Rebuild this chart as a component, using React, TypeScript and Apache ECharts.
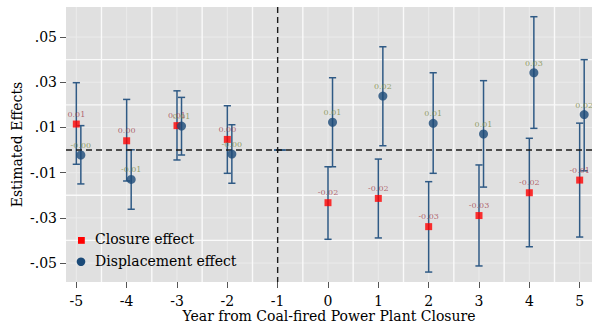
import React, { useEffect, useRef } from "react";
import * as echarts from "echarts";

const years = [-5, -4, -3, -2, -1, 0, 1, 2, 3, 4, 5];
const closure = [0.0115, 0.0041, 0.0108, 0.0047, null, -0.0233, -0.0214, -0.0339, -0.029, -0.0189, -0.0133];
const closureLow = [-0.0063, -0.0137, -0.0044, -0.0103, 0, -0.0395, -0.0389, -0.054, -0.0513, -0.0428, -0.0385];
const closureHigh = [0.0298, 0.0224, 0.0262, 0.0196, 0, -0.0074, -0.004, -0.014, -0.0066, 0.0052, 0.0119];
const displacement = [-0.0022, -0.013, 0.0106, -0.0018, null, 0.0123, 0.0239, 0.0118, 0.0071, 0.0342, 0.0157];
const dispLow = [-0.015, -0.0262, -0.0022, -0.0147, 0, -0.0074, 0.0019, -0.0103, -0.0164, 0.0096, -0.0092];
const dispHigh = [0.0108, 0.0001, 0.0233, 0.0112, 0, 0.032, 0.0457, 0.0342, 0.0307, 0.059, 0.04];

const xTicks = [-5, -4, -3, -2, -1, 0, 1, 2, 3, 4, 5];
const yTicks = [-0.05, -0.03, -0.01, 0.01, 0.03, 0.05];
const xMajorGrid = [-4.5, -3.5, -2.5, -1.5, -0.5, 0.5, 1.5, 2.5, 3.5, 4.5];
const yMajorGrid = [-0.04, -0.02, 0.02, 0.04];
const xMinorGrid = [-5, -4, -3, -2, 0, 1, 2, 3, 4, 5];
const yMinorGrid = [-0.05, -0.03, -0.01, 0.01, 0.03, 0.05];
const refX = [-1];
const refY = [0];
const legendNames = ["Closure effect", "Displacement effect"];

const DISP_OFFSET = 0.09;
const FONT = "DejaVu Serif";
const BAR_COLOR = "#2f5a85";
const RED = "#ff0000";
const NAVY = "#1b4a78";

function errorBarSeries(name: string, z: number, offset: number, low: number[], high: number[]) {
  return {
    name,
    type: "custom",
    z,
    silent: true,
    encode: { x: 0, y: [1, 2] },
    data: years.map((yr, i) => [yr + offset, low[i], high[i]]),
    renderItem: (params: any, api: any) => {
      const x = api.value(0);
      const pLo = api.coord([x, api.value(1)]);
      const pHi = api.coord([x, api.value(2)]);
      const w = 3.6;
      const style = { stroke: BAR_COLOR, lineWidth: 1.5 };
      return {
        type: "group",
        children: [
          { type: "line", shape: { x1: pLo[0], y1: pLo[1], x2: pHi[0], y2: pHi[1] }, style },
          { type: "line", shape: { x1: pLo[0] - w, y1: pLo[1], x2: pLo[0] + w, y2: pLo[1] }, style },
          { type: "line", shape: { x1: pHi[0] - w, y1: pHi[1], x2: pHi[0] + w, y2: pHi[1] }, style },
        ],
      };
    },
  };
}

function vLines(name: string, z: number, xs: number[], stroke: string, width: number, dash?: number[]) {
  return {
    name,
    type: "custom",
    z,
    silent: true,
    encode: { x: 0, y: 1 },
    data: xs.map((v) => [v, 0]),
    renderItem: (params: any, api: any) => {
      const cs = params.coordSys;
      const p = api.coord([api.value(0), 0]);
      return {
        type: "line",
        shape: { x1: p[0], y1: cs.y, x2: p[0], y2: cs.y + cs.height },
        style: { stroke, lineWidth: width, lineDash: dash },
      };
    },
  };
}

function hLines(name: string, z: number, ys: number[], stroke: string, width: number, dash?: number[]) {
  return {
    name,
    type: "custom",
    z,
    silent: true,
    encode: { x: 0, y: 1 },
    data: ys.map((v) => [0, v]),
    renderItem: (params: any, api: any) => {
      const cs = params.coordSys;
      const p = api.coord([0, api.value(1)]);
      return {
        type: "line",
        shape: { x1: cs.x, y1: p[1], x2: cs.x + cs.width, y2: p[1] },
        style: { stroke, lineWidth: width, lineDash: dash },
      };
    },
  };
}

const fmtY = (v: number) => {
  const s = Math.abs(v).toFixed(2).replace(/^0/, "");
  return (v < 0 ? "-" : "") + s;
};

export default function App() {
  const ref = useRef<HTMLDivElement>(null);
  useEffect(() => {
    if (!ref.current) return;
    const chart = echarts.init(ref.current, undefined, { renderer: "svg" });
    chart.setOption({
      animation: false,
      textStyle: { fontFamily: FONT },
      grid: {
        left: 66,
        top: 7,
        right: 0,
        bottom: 41,
        containLabel: false,
        outerBoundsMode: "none",
        show: true,
        backgroundColor: "#e0e0e0",
        borderWidth: 0,
      },
      xAxis: {
        type: "value",
        min: -5.205,
        max: 5.245,
        axisLine: { show: false, onZero: false },
        splitLine: { show: false },
        axisTick: { show: true, customValues: xTicks, length: 6, lineStyle: { color: "#555", width: 1 } },
        axisLabel: {
          customValues: xTicks,
          margin: 12,
          color: "#000",
          fontSize: 14,
          lineHeight: 14,
          fontFamily: FONT,
          formatter: (v: number) => String(v),
        },
        name: "Year from Coal-fired Power Plant Closure",
        nameLocation: "middle",
        nameMoveOverlap: false,
        nameGap: 27,
        nameTextStyle: { color: "#000", fontSize: 14, lineHeight: 14, fontFamily: FONT },
      },
      yAxis: {
        type: "value",
        min: -0.0584,
        max: 0.0633,
        axisLine: { show: false, onZero: false },
        splitLine: { show: false },
        axisTick: { show: true, customValues: yTicks, length: 6, lineStyle: { color: "#555", width: 1 } },
        axisLabel: {
          customValues: yTicks,
          margin: 9,
          color: "#000",
          fontSize: 14,
          fontFamily: FONT,
          formatter: fmtY,
        },
        name: "Estimated Effects",
        nameLocation: "middle",
        nameMoveOverlap: false,
        nameGap: 42,
        nameTextStyle: { color: "#000", fontSize: 14, fontFamily: FONT },
      },
      graphic: [
        {
          type: "rect",
          left: 78,
          top: 237,
          z: 100,
          shape: { width: 6.8, height: 6.8 },
          style: { fill: RED },
          silent: true,
        },
        {
          type: "text",
          left: 95,
          top: 232,
          z: 100,
          style: { text: legendNames[0], fill: "#000", font: `14px "${FONT}"` },
          silent: true,
        },
        {
          type: "circle",
          left: 76.7,
          top: 257.4,
          z: 100,
          shape: { r: 4.3 },
          style: { fill: NAVY },
          silent: true,
        },
        {
          type: "text",
          left: 95,
          top: 253.5,
          z: 100,
          style: { text: legendNames[1], fill: "#000", font: `14px "${FONT}"` },
          silent: true,
        },
      ],
      series: [
        vLines("gridMinorX", 10, xMinorGrid, "#ebebeb", 1),
        hLines("gridMinorY", 10, yMinorGrid, "#ebebeb", 1),
        vLines("gridMajorX", 11, xMajorGrid, "#fafafa", 1.4),
        hLines("gridMajorY", 11, yMajorGrid, "#fafafa", 1.4),
        errorBarSeries("Closure CI", 12, 0, closureLow, closureHigh),
        errorBarSeries("Displacement CI", 13, DISP_OFFSET, dispLow, dispHigh),
        vLines("refX", 14, refX, "#1a1a1a", 1.4, [6, 4]),
        hLines("refY", 14, refY, "#1a1a1a", 1.4, [6, 4]),
        {
          name: legendNames[0],
          type: "scatter",
          z: 15,
          symbol: "rect",
          symbolSize: 7,
          itemStyle: { color: RED },
          data: years.map((yr, i) => [yr, closure[i]]).filter((d) => d[1] !== null),
          label: {
            show: true,
            position: "top",
            distance: 2.5,
            fontSize: 8,
            fontFamily: FONT,
            color: "#a3434f",
            formatter: (p: any) => (p.value[1] as number).toFixed(2),
          },
        },
        {
          name: legendNames[1],
          type: "scatter",
          z: 16,
          symbol: "circle",
          symbolSize: 9,
          itemStyle: { color: NAVY },
          data: years
            .map((yr, i) => [yr + DISP_OFFSET, displacement[i]])
            .filter((d) => d[1] !== null),
          label: {
            show: true,
            position: "top",
            distance: 1,
            fontSize: 8,
            fontFamily: FONT,
            color: "#7d8c45",
            formatter: (p: any) => (p.value[1] as number).toFixed(2),
          },
        },
      ],
    });
    return () => chart.dispose();
  }, []);
  return (
    <div
      ref={ref}
      style={{ position: "fixed", left: 0, top: 0, width: 592, height: 323, background: "#fff" }}
    />
  );
}
